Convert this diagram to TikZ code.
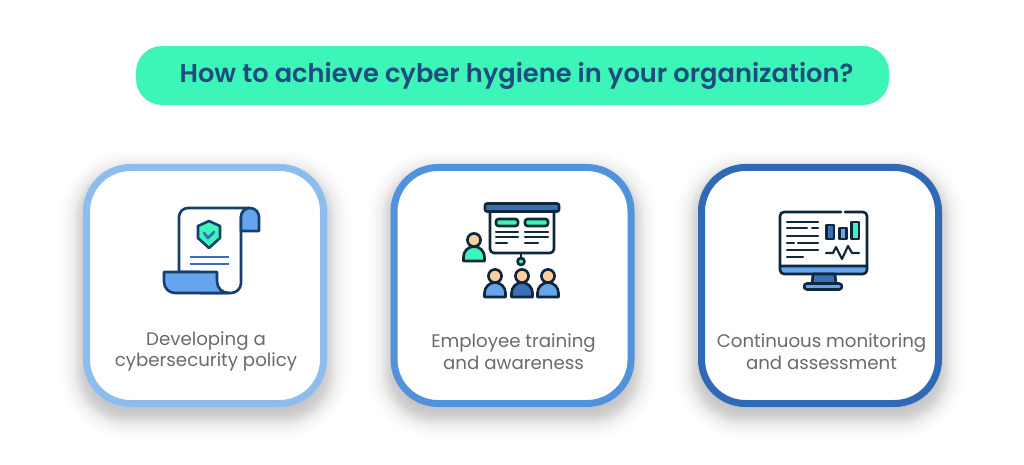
\documentclass[tikz,border=0pt]{standalone}
\usepackage{fontspec}
\setmainfont{Poppins}
\newfontfamily\titlefont{Poppins SemiBold}
\definecolor{mint}{HTML}{3DF5B8}
\definecolor{navy}{HTML}{1E4C7C}
\definecolor{ink}{HTML}{10263A}
\definecolor{inkblue}{HTML}{143F6E}
\definecolor{midblue}{HTML}{3A6FB5}
\definecolor{lightblue}{HTML}{64A5EE}
\definecolor{skin}{HTML}{F9CFA0}
\definecolor{cardA}{HTML}{8DBDEE}
\definecolor{cardB}{HTML}{5092DC}
\definecolor{cardC}{HTML}{3069B5}
\definecolor{label}{HTML}{6A6A6A}
\tikzset{
  cardbox/.style={draw, fill=white, line width=7pt, minimum width=237pt, minimum height=236pt, rounded corners=44pt, outer sep=0pt, inner sep=0pt},
  caption/.style={text=label, font=\fontsize{18.2}{21.5}\selectfont, align=center, inner sep=0pt},
  iconA/.style={draw=inkblue, line width=2.6pt, line join=round, line cap=round},
  iconB/.style={draw=ink, line width=2.6pt, line join=round, line cap=round},
  thin line/.style={draw=ink, line width=2.1pt, line cap=round},
  shadowlayer/.style={fill=black, fill opacity=0.011, draw=none}
}
\newcommand{\cardshadow}[1]{%
  \foreach \e in {-6,-4,-2,0,1,2,3,4,5,6,7,8,9,10,12,14,16,19,22}{
    \fill[shadowlayer, rounded corners={45pt+\e pt}] (#1-122-\e,173-\e) rectangle (#1+122+\e,416+\e);
  }}
\newcommand{\person}[3]{%
  \draw[iconB, fill=#3] (#1-10.5,#2+21) -- (#1-10.5,#2+17) arc[start angle=-180,end angle=0,radius=10.5] -- (#1+10.5,#2+21) -- cycle;
  \draw[iconB, fill=skin] (#1,#2) circle[radius=6.6];}
\begin{document}
\begin{tikzpicture}[x=1pt,y=-1pt]
\useasboundingbox (0,0) rectangle (1024,465);
\fill[white] (0,0) rectangle (1024,465);
\node[fill=mint, minimum width=753pt, minimum height=59pt, rounded corners=26pt, inner sep=0pt, outer sep=0pt] (titlebar) at (512.5,75.5) {};
\node[text=navy, inner sep=0pt, font=\fontsize{25.7}{28}\selectfont\titlefont] (title) at (516.5,75.5) {How to achieve cyber hygiene in your organization?};

\cardshadow{205}\cardshadow{512.5}\cardshadow{820}
\node[cardbox, draw=cardA] (card1) at (205,285.5) {};
\node[cardbox, draw=cardB] (card2) at (512.5,285.5) {};
\node[cardbox, draw=cardC] (card3) at (820,285.5) {};
\node[caption] (cap1) at (206,351.5) {Developing a\\cybersecurity policy};
\node[caption] (cap2) at (513.5,351.5) {Employee training\\and awareness};
\node[caption] (cap3) at (821.5,351.5) {Continuous monitoring\\and assessment};

% icon 1: scroll
\draw[iconA, fill=white] (179,272) -- (179,217) arc[start angle=-180,end angle=-90,radius=9] -- (250,208) arc[start angle=-90,end angle=-180,radius=9] -- (241,283) arc[start angle=0,end angle=90,radius=10] -- (229,293) -- (200,293) -- (200,272) -- cycle;
\draw[iconA, fill=lightblue] (241,231) -- (241,217) arc[start angle=-180,end angle=0,radius=9] -- (259,231) -- cycle;
\draw[iconA, fill=lightblue] (164,272) -- (217,272) -- (217,281) .. controls (217,288) and (222,293) .. (229,293) -- (175,293) arc[start angle=90,end angle=180,radius=11] -- cycle;
\draw[iconA, fill=mint] (209,221) -- (220,226) -- (220,238) -- (209,248) -- (198,238) -- (198,226) -- cycle;
\draw[draw=midblue, line width=2.8pt, line cap=round, line join=round] (204,233) -- (208,238) -- (214,232);
\draw[draw=midblue, line width=2.6pt] (190,257) -- (229,257) (190,264) -- (229,264);

% icon 2: presentation
\draw[iconB, fill=white] (490,212) -- (490,249) arc[start angle=180,end angle=90,radius=4] -- (550,253) arc[start angle=90,end angle=0,radius=4] -- (554,212);
\draw[iconB, fill=midblue, rounded corners=2pt] (485,203.5) rectangle (559,211.5);
\draw[iconB, fill=mint, rounded corners=2.5pt] (496,219) rectangle (518,226);
\draw[iconB, fill=mint, rounded corners=2.5pt] (525,219) rectangle (548,226);
\draw[thin line] (496,232) -- (518,232) (496,237) -- (518,237) (496,243) -- (507,243);
\draw[thin line] (525,232) -- (548,232) (525,237) -- (548,237) (525,243) -- (538,243);
\draw[iconB] (521,253) -- (521,258);
\draw[iconB, fill=mint] (521,261.5) circle[radius=3.5];
\person{474}{240}{mint}
\person{495}{276}{lightblue}
\person{522}{276}{midblue}
\person{548}{276}{lightblue}

% icon 3: monitor
\draw[iconB, fill=lightblue] (780,266) -- (780,270) arc[start angle=180,end angle=90,radius=4] -- (863,274) arc[start angle=90,end angle=0,radius=4] -- (867,266) -- cycle;
\draw[iconB] (841,212) -- (784,212) arc[start angle=-90,end angle=-180,radius=4] -- (780,266) (845,212) -- (863,212) arc[start angle=-90,end angle=0,radius=4] -- (867,266);
\draw[iconB, fill=midblue] (813,274) -- (835,274) -- (836,284) -- (812,284) -- cycle;
\draw[iconB, fill=lightblue, rounded corners=3pt] (804,283.5) rectangle (842,289.5);
\draw[thin line] (787,222) -- (818,222) (787,228) -- (807,228) (812,228) -- (818,228) (787,236) -- (818,236) (787,243) -- (794,243) (798,243) -- (818,243) (787,250) -- (818,250) (787,257) -- (803,257);
\draw[iconB, fill=midblue] (826.5,225) rectangle (834,239);
\draw[iconB, fill=lightblue] (839.5,228) rectangle (846.5,239);
\draw[iconB, fill=mint] (851.5,222) rectangle (859,239);
\draw[iconB, line width=2.1pt] (826,253) -- (833,253) -- (836,247) -- (842,259) -- (848,246) -- (852,253) -- (859,253);
\end{tikzpicture}
\end{document}
